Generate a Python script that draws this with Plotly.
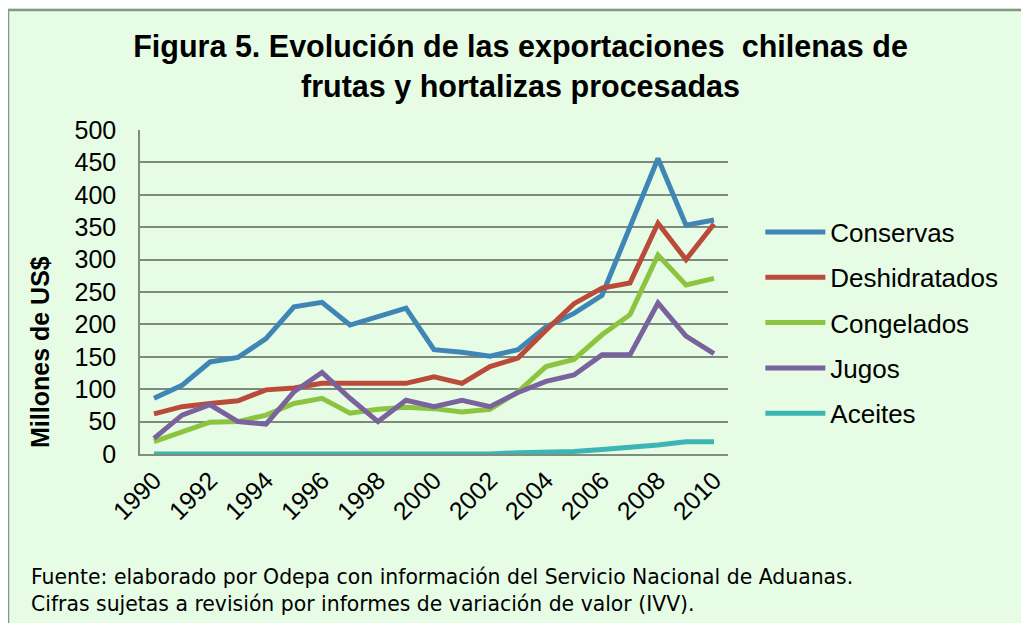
import plotly.graph_objects as go

years = list(range(1990, 2011))
conservas = [86, 106, 142, 149, 178, 227, 234, 199, 212, 225, 161, 157, 151, 161, 196, 217, 245, 351, 456, 353, 361]
deshidratados = [62, 73, 78, 82, 99, 102, 109, 109, 109, 109, 119, 109, 135, 148, 191, 232, 256, 264, 356, 300, 355]
congelados = [19, 34, 49, 50, 60, 78, 86, 63, 69, 72, 70, 65, 69, 96, 135, 146, 184, 215, 307, 261, 271]
jugos = [24, 60, 76, 50, 46, 96, 126, 86, 50, 83, 73, 83, 73, 95, 112, 122, 153, 153, 233, 182, 155]
aceites = [0, 0, 0, 0, 0, 0, 0, 0, 0, 0, 0, 0, 0, 2, 3, 4, 7, 10, 14, 19, 19]

series = [
    ("Conservas", conservas, "#3F86B6"),
    ("Deshidratados", deshidratados, "#BA4B3B"),
    ("Congelados", congelados, "#8CC43F"),
    ("Jugos", jugos, "#7A629D"),
    ("Aceites", aceites, "#3DB5B5"),
]

tick_years = list(range(1990, 2011, 2))
y_ticks = list(range(0, 501, 50))

BG = "#E6FCE4"
FONT = "Liberation Sans, Arial, sans-serif"

fig = go.Figure()
for name, vals, color in series:
    fig.add_trace(go.Scatter(
        x=years, y=vals, name=name, mode="lines",
        legendgroup=name,
        line=dict(color=color, width=5),
    ))

fig.update_layout(
    width=1021, height=615,
    margin=dict(l=132, r=301, t=122, b=169),
    paper_bgcolor=BG, plot_bgcolor=BG,
    font=dict(family=FONT, color="#000000"),
    title=dict(
        text="<b>Figura 5. Evolución de las exportaciones  chilenas de<br>frutas y hortalizas procesadas</b>",
        x=0.502, xanchor="center", xref="container",
        y=0.92, yanchor="middle", yref="container",
        font=dict(size=30.5, family=FONT, color="#000000"),
    ),
    showlegend=True,
    legend=dict(
        x=1.055, xanchor="left", y=0.404, yanchor="middle",
        font=dict(size=26, family=FONT, color="#000000"),
        bgcolor="rgba(0,0,0,0)", tracegroupgap=8.5,
        itemwidth=60,
    ),
)

fig.update_xaxes(
    range=[1989.5, 2010.5],
    tickmode="array", tickvals=tick_years, ticktext=[str(y) for y in tick_years],
    tickangle=-45, tickfont=dict(size=25, family=FONT, color="#000000"),
    showgrid=False, showline=True, linecolor="#7F8F7F", linewidth=1.5,
    ticks="", zeroline=False,
)
fig.update_yaxes(
    range=[0, 500], tickmode="array", tickvals=y_ticks,
    tickfont=dict(size=25, family=FONT, color="#000000"),
    showgrid=True, gridcolor="#7C8C7C", gridwidth=1.5,
    showline=True, linecolor="#7F8F7F", linewidth=1.5,
    ticks="outside", ticklen=8, tickcolor=BG, zeroline=False,
    ticklabelstandoff=9,
)

fig.add_annotation(
    text="<b>Millones de US$</b>", textangle=-90,
    xref="paper", yref="paper", x=-0.17, y=0.315,
    xanchor="center", yanchor="middle", showarrow=False,
    font=dict(size=25, family=FONT, color="#000000"),
)

fig.add_annotation(
    text="Fuente: elaborado por Odepa con información del Servicio Nacional de Aduanas.<br>Cifras sujetas a revisión por informes de variación de valor (IVV).",
    xref="paper", yref="paper", x=-0.189, y=-0.335,
    xanchor="left", yanchor="top", align="left", showarrow=False,
    font=dict(size=20.4, family="DejaVu Sans, sans-serif", color="#000000"),
)

fig.add_shape(
    type="rect", xref="paper", yref="paper",
    x0=-0.2245, x1=1.6, y0=-0.7, y1=1.370,
    line=dict(color="#7F9A80", width=2.5), fillcolor="rgba(0,0,0,0)",
    layer="below",
)

fig.write_html("out.html")
